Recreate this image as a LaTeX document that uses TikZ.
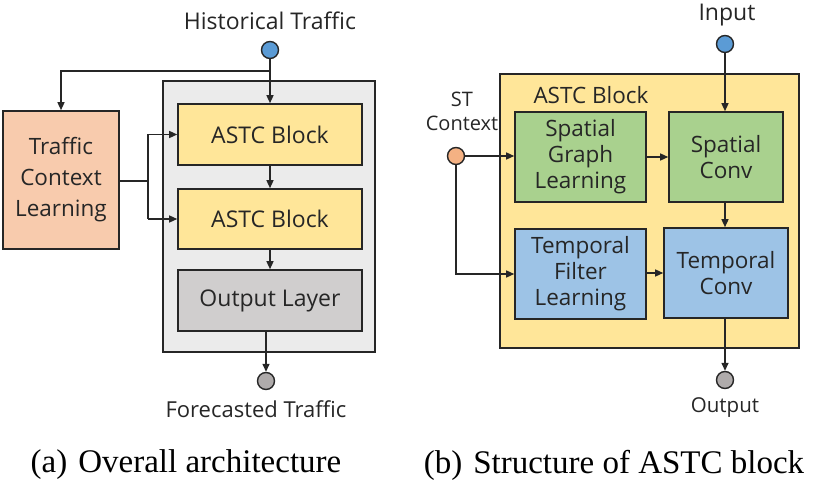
\documentclass[tikz,border=0pt]{standalone}
\usepackage{fontspec}
\setmainfont{Liberation Serif}
\newfontfamily\uifont{Open Sans}
\usetikzlibrary{arrows.meta,positioning}
\definecolor{cgray}{HTML}{EBEBEB}
\definecolor{cyel}{HTML}{FFE699}
\definecolor{coutl}{HTML}{D0CECE}
\definecolor{csal}{HTML}{F8CBAD}
\definecolor{cgreen}{HTML}{A9D18E}
\definecolor{cblue}{HTML}{9DC3E6}
\definecolor{cbcirc}{HTML}{5B9BD5}
\definecolor{cocirc}{HTML}{F4B183}
\definecolor{cgcirc}{HTML}{AFABAB}
\definecolor{cline}{HTML}{262626}
\tikzset{
  box/.style={draw=cline,line width=1.6pt,inner sep=0pt,align=center,text=cline,
    font=\uifont\fontsize{22.5}{26}\selectfont},
  io/.style={circle,draw=cline,line width=1.4pt,minimum size=17pt,inner sep=0pt},
  lbl/.style={text=cline,font=\uifont\fontsize{22.5}{24}\selectfont,align=center,inner sep=0pt},
  arr/.style={draw=cline,line width=1.4pt,-{Triangle[length=8pt,width=7pt]}},
  ln/.style={draw=cline,line width=1.4pt},
  captxt/.style={font=\fontsize{33}{36}\selectfont,inner sep=0pt}
}
\begin{document}
\begin{tikzpicture}[x=1pt,y=-1pt]
\useasboundingbox (0,0) rectangle (820,481);
% ---- (a) ----
\node[box,fill=cgray,minimum width=212pt,minimum height=271pt] (cont) at (269,216.5) {};
\node[box,fill=cyel,minimum width=184pt,minimum height=61pt,font=\uifont\fontsize{23}{26}\selectfont] (astc1) at (270,134.5) {ASTC Block};
\node[box,fill=cyel,minimum width=184pt,minimum height=60pt,font=\uifont\fontsize{23}{26}\selectfont] (astc2) at (270,219) {ASTC Block};
\node[box,fill=coutl,minimum width=184pt,minimum height=61pt,font=\uifont\fontsize{23}{26}\selectfont] (outl) at (270,300.5) {Output Layer};
\node[box,fill=csal,minimum width=116pt,minimum height=138pt,font=\uifont\fontsize{22.5}{31}\selectfont] (tcl) at (61,180) {Traffic\\Context\\Learning};
\node[io,fill=cbcirc] (hist) at (270,50) {};
\node[io,fill=cgcirc] (fore) at (266,381) {};
\node[lbl,font=\uifont\fontsize{23}{26}\selectfont] (histt) at (270,21) {Historical Traffic};
\node[lbl,font=\uifont\fontsize{22}{26}\selectfont] (foret) at (256,409) {Forecasted Traffic};
\coordinate (br) at (270,71);
\coordinate (jn) at (148,181);
\draw[arr] (hist) -- (astc1.north);
\draw[arr] (br) -| (tcl.north);
\draw[ln] (tcl.east |- jn) -- (jn);
\draw[ln] (jn |- astc1) -- (jn |- astc2);
\draw[arr] (jn |- astc1) -- (astc1.west);
\draw[arr] (jn |- astc2) -- (astc2.west);
\draw[arr] (astc1) -- (astc2);
\draw[arr] (astc2) -- (outl);
\draw[arr] (fore |- outl.south) -- (fore);
% ---- (b) ----
\node[box,fill=cyel,minimum width=299pt,minimum height=274pt] (blk) at (649.5,211) {};
\node[lbl] (blkt) at (591,95) {ASTC Block};
\node[box,fill=cgreen,minimum width=131pt,minimum height=90pt] (sgl) at (580.5,157) {Spatial\\Graph\\Learning};
\node[box,fill=cgreen,minimum width=114pt,minimum height=90pt] (sc) at (726,157) {Spatial\\Conv};
\node[box,fill=cblue,minimum width=131pt,minimum height=90pt] (tfl) at (580.5,274) {Temporal\\Filter\\Learning};
\node[box,fill=cblue,minimum width=124pt,minimum height=90pt] (tc) at (726,273) {Temporal\\Conv};
\node[io,fill=cbcirc] (inp) at (725,44) {};
\node[io,fill=cocirc] (st) at (456,156) {};
\node[io,fill=cgcirc] (outc) at (725,380) {};
\node[lbl,font=\uifont\fontsize{23}{26}\selectfont] (inpt) at (727,15) {Input};
\node[lbl,font=\uifont\fontsize{20}{24}\selectfont] (stt) at (462,111) {ST\\Context};
\node[lbl,font=\uifont\fontsize{20.5}{24}\selectfont] (outt) at (725,408) {Output};
\draw[arr] (inp) -- (inp |- sc.north);
\draw[arr] (st) -- (sgl.west |- st);
\draw[arr] (st) |- (tfl.west);
\draw[arr] (sgl) -- (sc);
\draw[arr] (sc.south -| inp) -- (tc.north -| inp);
\draw[arr] (tfl.east |- tc) -- (tc.west);
\draw[arr] (tc.south -| outc) -- (outc);
% captions
\node[captxt] (capa) at (186,465) {(a)\hspace{11pt}Overall architecture};
\node[captxt] (capb) at (614,465) {(b)\hspace{11pt}Structure of ASTC block};
\end{tikzpicture}
\end{document}
